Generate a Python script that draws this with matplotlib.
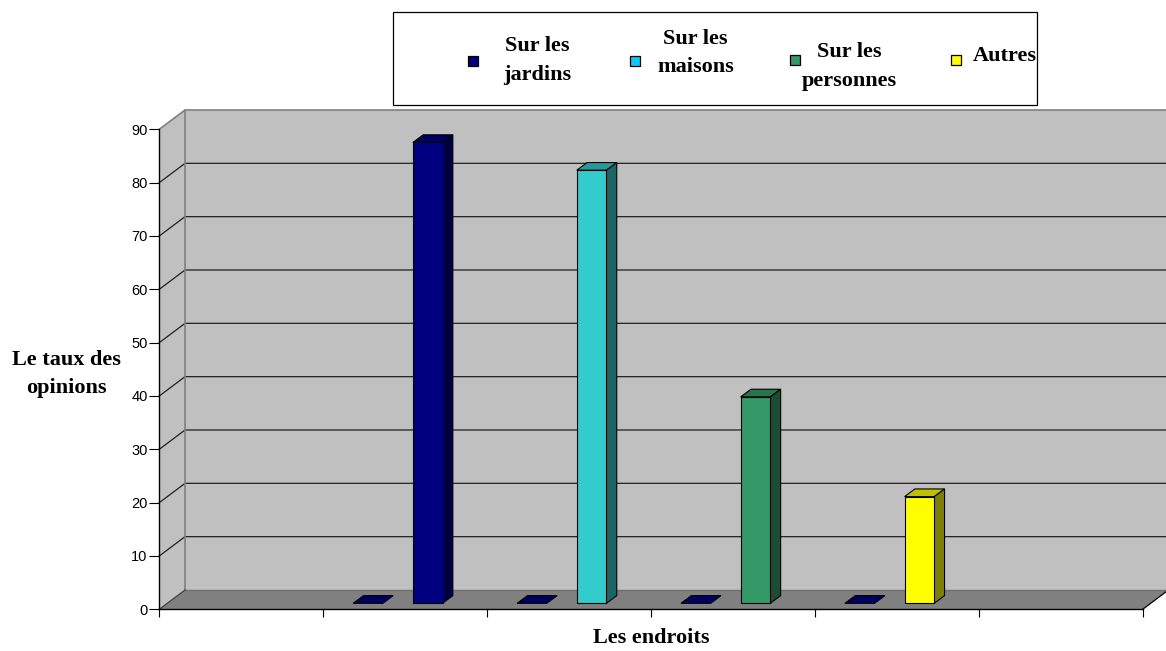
import matplotlib.pyplot as plt
import numpy as np
from matplotlib.colors import to_rgb
from matplotlib.patches import Polygon, Rectangle

# Opinion rates (%) for each location, placed on a 6-slot category axis
slots = [1, 2, 3, 4]
labels = ["Sur les\njardins", "Sur les\nmaisons", "Sur les\npersonnes", "Autres"]
values = [86.4, 81.2, 38.7, 20.0]
empty_series = [0, 0, 0, 0]
n_slots = 6
yticks = list(range(0, 100, 10))

bar_colors = ["#000080", "#33cccc", "#339966", "#ffff00"]
legend_colors = ["#000080", "#00ccff", "#339966", "#ffff00"]

# 3D look: depth of the walls and of the columns, in data units
WALL_DX, WALL_DY = 0.157, 3.62
COL_DX, COL_DY = 0.063, 1.44
COL_BASE = 1.125          # columns stand a bit behind the front edge
COL_W = 0.181
OFFSETS = (0.134, 0.498)  # empty series, value series (within a slot)
SHIFT = 0.049

serif = "Liberation Serif"
sans = "Liberation Sans"

fig = plt.figure(figsize=(11.66, 6.51), dpi=100)
fig.patch.set_facecolor("white")
ax = fig.add_axes([159.3 / 1166, (651 - 609.3) / 651, 983.4 / 1166, 480 / 651])
ax.set_xlim(0, n_slots)
ax.set_ylim(0, 90)
ax.set_facecolor("none")

ymax = yticks[-1]

# side wall, back wall and floor
ax.add_patch(Polygon([(0, 0), (WALL_DX, WALL_DY), (WALL_DX, ymax + WALL_DY), (0, ymax)],
                     fc="#c0c0c0", ec="none", zorder=0.5, clip_on=False))
ax.add_patch(Rectangle((WALL_DX, WALL_DY), n_slots + 1, ymax,
                       fc="#c0c0c0", ec="none", zorder=0.5, clip_on=False))
ax.add_patch(Polygon([(0, 0), (n_slots, 0), (n_slots + WALL_DX, WALL_DY), (WALL_DX, WALL_DY)],
                     fc="#808080", ec="none", zorder=0.7, clip_on=False))

# grid lines running along the side wall and the back wall
for v in yticks[1:-1]:
    ax.plot([0, WALL_DX, n_slots + 1], [v, v + WALL_DY, v + WALL_DY],
            color="#202020", lw=0.9, zorder=0.6, clip_on=False)
ax.plot([0, WALL_DX, n_slots + 1], [ymax, ymax + WALL_DY, ymax + WALL_DY],
        color="#808080", lw=1.2, zorder=0.6, clip_on=False)
ax.plot([WALL_DX, WALL_DX], [WALL_DY, ymax + WALL_DY], color="#808080", lw=1.2,
        zorder=0.6, clip_on=False)
ax.plot([WALL_DX, n_slots + 1], [WALL_DY, WALL_DY], color="#707070", lw=1.0,
        zorder=0.8, clip_on=False)
ax.plot([0, WALL_DX], [0, WALL_DY], color="#404040", lw=0.9, zorder=0.8, clip_on=False)
ax.plot([n_slots, n_slots + WALL_DX], [0, WALL_DY], color="black", lw=0.9,
        zorder=0.8, clip_on=False)


def draw_column(x, h, color):
    rgb = np.array(to_rgb(color))
    y0 = COL_BASE
    kw = dict(ec="black", lw=0.8, zorder=3, clip_on=False, joinstyle="miter")
    ax.add_patch(Polygon([(x, y0 + h), (x + COL_W, y0 + h),
                          (x + COL_W + COL_DX, y0 + h + COL_DY), (x + COL_DX, y0 + h + COL_DY)],
                         fc=rgb * 0.75, **kw))
    if h > 0:
        ax.add_patch(Polygon([(x + COL_W, y0), (x + COL_W + COL_DX, y0 + COL_DY),
                              (x + COL_W + COL_DX, y0 + h + COL_DY), (x + COL_W, y0 + h)],
                             fc=rgb * 0.5, **kw))
        ax.add_patch(Rectangle((x, y0), COL_W, h, fc=rgb, **kw))


for s, z, v, c in zip(slots, empty_series, values, bar_colors):
    draw_column(s + OFFSETS[0] + SHIFT, z, "#000080")
    draw_column(s + OFFSETS[1] + SHIFT, v, c)

# axes
for side in ("top", "right"):
    ax.spines[side].set_visible(False)
ax.spines["left"].set_linewidth(1.0)
ax.spines["bottom"].set_linewidth(1.0)
ax.set_yticks(yticks)
ax.set_yticklabels([str(t) for t in yticks], fontsize=10.5, family=sans)
ax.set_xticks(range(n_slots + 1))
ax.set_xticklabels([])
ax.tick_params(axis="y", length=7.2, width=0.8, pad=1.2)
ax.tick_params(axis="x", length=5.8, width=0.8)

ax.set_ylabel("Le taux des\nopinions", rotation=0, fontsize=16, fontweight="bold",
              family=serif, linespacing=1.55, ha="center", va="center")
ax.yaxis.set_label_coords(-0.094, 0.49)
ax.set_xlabel("Les endroits", fontsize=16, fontweight="bold", family=serif, va="baseline")
ax.xaxis.set_label_coords(0.5, -0.0708)

# legend box drawn in pixel coordinates
lax = fig.add_axes([0, 0, 1, 1], zorder=5)
lax.set_xlim(0, 1166)
lax.set_ylim(651, 0)
lax.axis("off")
lax.add_patch(Rectangle((393.3, 12), 643.4, 92.5, fc="white", ec="black", lw=0.9))

marker_xy = [(473, 61), (635, 61), (795, 60), (956, 60)]
text_x = [537.5, 695.5, 849.2, 972.3]
baselines = [51.3, 44.0, 57.3, 61.3]
line_step = 28.4
for lab, col, (mx, my), tx, by in zip(labels, legend_colors, marker_xy, text_x, baselines):
    lax.add_patch(Rectangle((mx - 5, my - 5), 10, 10, fc=col, ec="black", lw=0.9))
    lines = lab.split("\n")
    ha = "center" if len(lines) > 1 else "left"
    for k, line in enumerate(lines):
        lax.text(tx, by + k * line_step, line, ha=ha, va="baseline", fontsize=16,
                 fontweight="bold", family=serif)

fig.savefig("out.png", dpi=100)
